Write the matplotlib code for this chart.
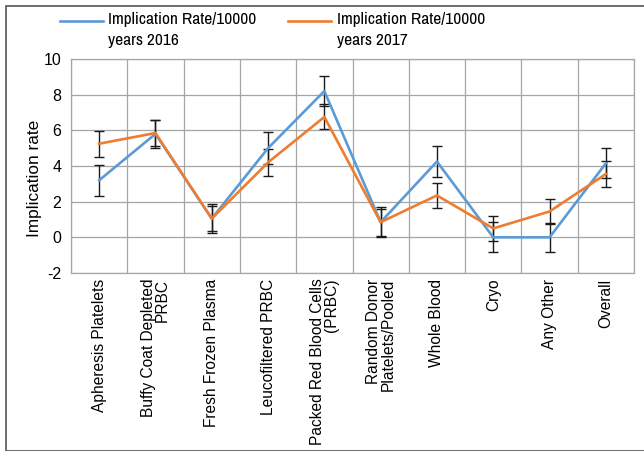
import matplotlib
matplotlib.use("Agg")
import matplotlib.pyplot as plt
import numpy as np
from matplotlib.lines import Line2D
from matplotlib.patches import Rectangle

plt.rcParams['font.family'] = ['Liberation Sans', 'DejaVu Sans']
NARROW = ['Archivo Narrow', 'Liberation Sans', 'DejaVu Sans']

categories = ["Apheresis Platelets", "Buffy Coat Depleted\nPRBC", "Fresh Frozen Plasma",
              "Leucofiltered PRBC", "Packed Red Blood Cells\n(PRBC)", "Random Donor\nPlatelets/Pooled",
              "Whole Blood", "Cryo", "Any Other", "Overall"]
rate_2016 = [3.2, 5.8, 1.05, 5.0, 8.2, 0.85, 4.25, 0.0, 0.0, 4.15]
err_2016 = [0.87, 0.8, 0.8, 0.9, 0.85, 0.75, 0.86, 0.85, 0.83, 0.85]
rate_2017 = [5.25, 5.85, 1.05, 4.2, 6.75, 0.85, 2.35, 0.5, 1.45, 3.55]
err_2017 = [0.72, 0.75, 0.72, 0.75, 0.7, 0.85, 0.72, 0.72, 0.72, 0.72]
label_2016 = "Implication Rate/10000\nyears 2016"
label_2017 = "Implication Rate/10000\nyears 2017"
yticks = [-2, 0, 2, 4, 6, 8, 10]

W, H = 644, 451
fig = plt.figure(figsize=(W / 100, H / 100), dpi=100)


def px(xp, yp):
    return xp / W, 1 - yp / H


# outer frame
fig.patches.append(Rectangle((6 / W, 0.5 / H), 2.0, (H - 6.5) / H, transform=fig.transFigure,
                             fill=False, edgecolor='#555555', linewidth=1.2))

ax = fig.add_axes([71 / W, (H - 273) / H, 563 / W, 214 / H])
x = np.arange(len(categories))
blue = '#5B9BD5'
orange = '#ED7D31'

ax.errorbar(x, rate_2016, yerr=err_2016, color=blue, lw=1.9, ecolor='#1a1a1a',
            elinewidth=1.0, capsize=3.6, capthick=1.0, zorder=3)
ax.errorbar(x, rate_2017, yerr=err_2017, color=orange, lw=1.9, ecolor='#1a1a1a',
            elinewidth=1.0, capsize=3.6, capthick=1.0, zorder=3)

ax.set_xlim(-0.5, len(categories) - 0.5)
ax.set_ylim(-2, 10)
ax.set_yticks(yticks)
ax.set_yticklabels([str(v) for v in yticks], fontsize=11.5)
ax.set_xticks(x)
ax.set_xticklabels(categories, rotation=90, fontsize=11.2, ha='center', va='top',
                   multialignment='right', linespacing=0.95)
ax.set_xticks(np.arange(-0.5, len(categories), 1.0), minor=True)
ax.tick_params(axis='both', which='both', length=0)
ax.tick_params(axis='x', pad=4)
ax.tick_params(axis='y', pad=7)
ax.grid(True, which='minor', axis='x', color='#A6A6A6', lw=0.9)
ax.grid(True, which='major', axis='y', color='#A6A6A6', lw=0.9)
ax.grid(False, which='major', axis='x')
for s in ax.spines.values():
    s.set_color('#A6A6A6')
    s.set_linewidth(0.9)
ax.set_ylabel("Implication rate", fontsize=12.4)
ax.yaxis.label.set_va('center')
ax.yaxis.set_label_coords((35 - 71) / 563, (273 - 178) / 214)

# legend (entries aligned with first text line, as in the reference)
for (x0, x1, xt), col, lab in [((60, 103, 108), blue, label_2016),
                               ((288, 331, 337), orange, label_2017)]:
    fig.add_artist(Line2D([x0 / W, x1 / W], [1 - 21 / H, 1 - 21 / H], color=col, lw=1.9,
                          transform=fig.transFigure))
    fig.text(*px(xt, 12), lab, ha='left', va='top', fontsize=12.5, family=NARROW,
             linespacing=1.5)

fig.savefig("out.png", dpi=100)
